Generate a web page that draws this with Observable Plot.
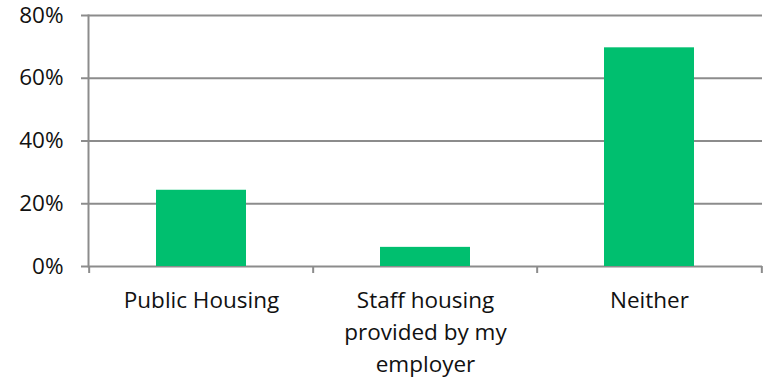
<!DOCTYPE html>
<html>
<head>
<meta charset="utf-8">
<script src="https://cdn.jsdelivr.net/npm/d3@7"></script>
<script src="https://cdn.jsdelivr.net/npm/@observablehq/plot@0.6"></script>
<style>
  html, body { margin: 0; padding: 0; background: #fff; }
  #chart svg { display: block; }
</style>
</head>
<body>
<div id="chart"></div>
<script>
const categories = ["Public Housing", "Staff housing provided by my employer", "Neither"];
const tickLabels = ["Public Housing", "Staff housing\nprovided by my\nemployer", "Neither"];
const values = [0.243, 0.061, 0.697];
const yTicks = [0, 0.2, 0.4, 0.6, 0.8];

const data = categories.map((c, i) => ({category: c, value: values[i]}));

const W = 769, H = 378;
const mL = 88, mR = 7, mT = 15, mB = 112;
const step = (W - mL - mR) / categories.length;
const grid = "#8c8c8c";
const font = "Open Sans";

const chart = Plot.plot({
  width: W,
  height: H,
  marginLeft: mL,
  marginRight: mR,
  marginTop: mT,
  marginBottom: mB,
  style: {fontFamily: font, fontSize: "22.5px", color: "#111", background: "#fff"},
  x: {domain: categories, paddingInner: 0.6, paddingOuter: 0.3, label: null},
  y: {domain: [0, 0.8], label: null},
  marks: [
    Plot.gridY(yTicks, {stroke: grid, strokeOpacity: 1, strokeWidth: 2}),
    Plot.frame({anchor: "left", stroke: grid, strokeWidth: 2}),
    Plot.axisY(yTicks, {
      tickSize: 7, tickPadding: 18, stroke: grid, strokeWidth: 2,
      tickFormat: d => Math.round(d * 100) + "%",
      fontSize: 22.5, fill: "#111", label: null
    }),
    Plot.barY(data, {x: "category", y: "value", fill: "#00bf6f"}),
    Plot.axisX({
      tickSize: 0, tickPadding: 18, fontSize: 22.5, fill: "#111", lineHeight: 1.44,
      tickFormat: d => tickLabels[categories.indexOf(d)], label: null
    }),
    Plot.axisX(categories, {tickSize: 7, text: null, dx: -step / 2, stroke: grid, strokeWidth: 2, label: null}),
    Plot.axisX(categories.slice(-1), {tickSize: 7, text: null, dx: step / 2, stroke: grid, strokeWidth: 2, label: null})
  ]
});
document.getElementById("chart").appendChild(chart);
</script>
</body>
</html>
